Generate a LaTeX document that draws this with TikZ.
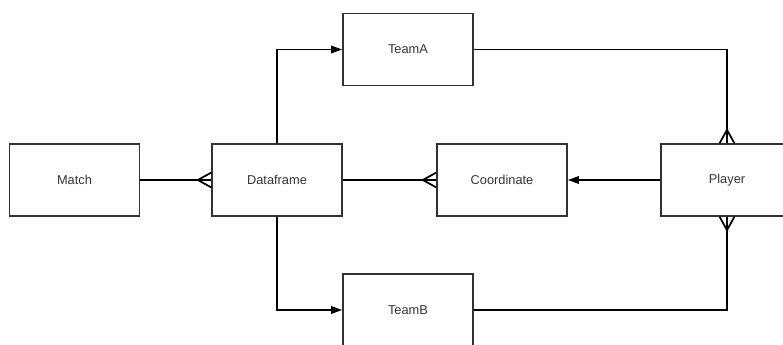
\documentclass[tikz,border=0pt]{standalone}
\usepackage{fontspec}
\setmainfont{Liberation Sans}
\usepackage{tikz}
\usetikzlibrary{arrows.meta}

\definecolor{boxline}{HTML}{333333}

% crow's foot end
\pgfdeclarearrow{
  name = crowfoot,
  parameters = {\the\pgfarrowlength,\the\pgfarrowwidth},
  setup code = {
    \pgfarrowssettipend{0pt}
    \pgfarrowssetlineend{0pt}
    \pgfarrowssetbackend{-\pgfarrowlength}
    \pgfarrowssetvisualbackend{-\pgfarrowlength}
    \pgfarrowssavethe\pgfarrowlength
    \pgfarrowssavethe\pgfarrowwidth
  },
  drawing code = {
    \pgfpathmoveto{\pgfqpoint{0pt}{.5\pgfarrowwidth}}
    \pgfpathlineto{\pgfqpoint{-\pgfarrowlength}{0pt}}
    \pgfpathlineto{\pgfqpoint{0pt}{-.5\pgfarrowwidth}}
    \pgfusepathqstroke
  },
  defaults = {length=10pt, width=11pt}
}

\tikzset{
  entity/.style={draw=boxline, line width=1.3pt, fill=white, text=boxline,
    minimum width=97.5pt, minimum height=54pt, inner sep=0pt,
    font=\fontsize{9.6}{11}\selectfont},
  link/.style={line width=1.3pt},
  many/.style={link, -{crowfoot[length=10pt, width=11pt]}},
  tip/.style={link, -{Triangle[length=8.2pt, width=5.6pt]}}
}

\begin{document}
\begin{tikzpicture}[x=0.75pt, y=-0.75pt]
\useasboundingbox (0,0) rectangle (783,345);
\clip (0,0) rectangle (783,345);

\node[entity] (match) at (74.5, 180) {Match};
\node[entity] (dataframe) at (277, 180) {Dataframe};
\node[entity] (coordinate) at (502, 180) {Coordinate};
\node[entity, minimum width=99pt] (player) at (727, 180) {Player};
\node[entity] (teama) at (408, 49.5) {TeamA};
\node[entity] (teamb) at (408, 310) {TeamB};

\draw[many] (match) -- (dataframe);
\draw[many] (dataframe) -- (coordinate);
\draw[tip] (player) -- (coordinate);

\draw[tip] (dataframe.north) |- (teama.west);
\draw[tip] (dataframe.south) |- (teamb.west);

\draw[many] (teama.east) -| (player.north);
\draw[many] (teamb.east) -| (player.south);
\end{tikzpicture}
\end{document}
